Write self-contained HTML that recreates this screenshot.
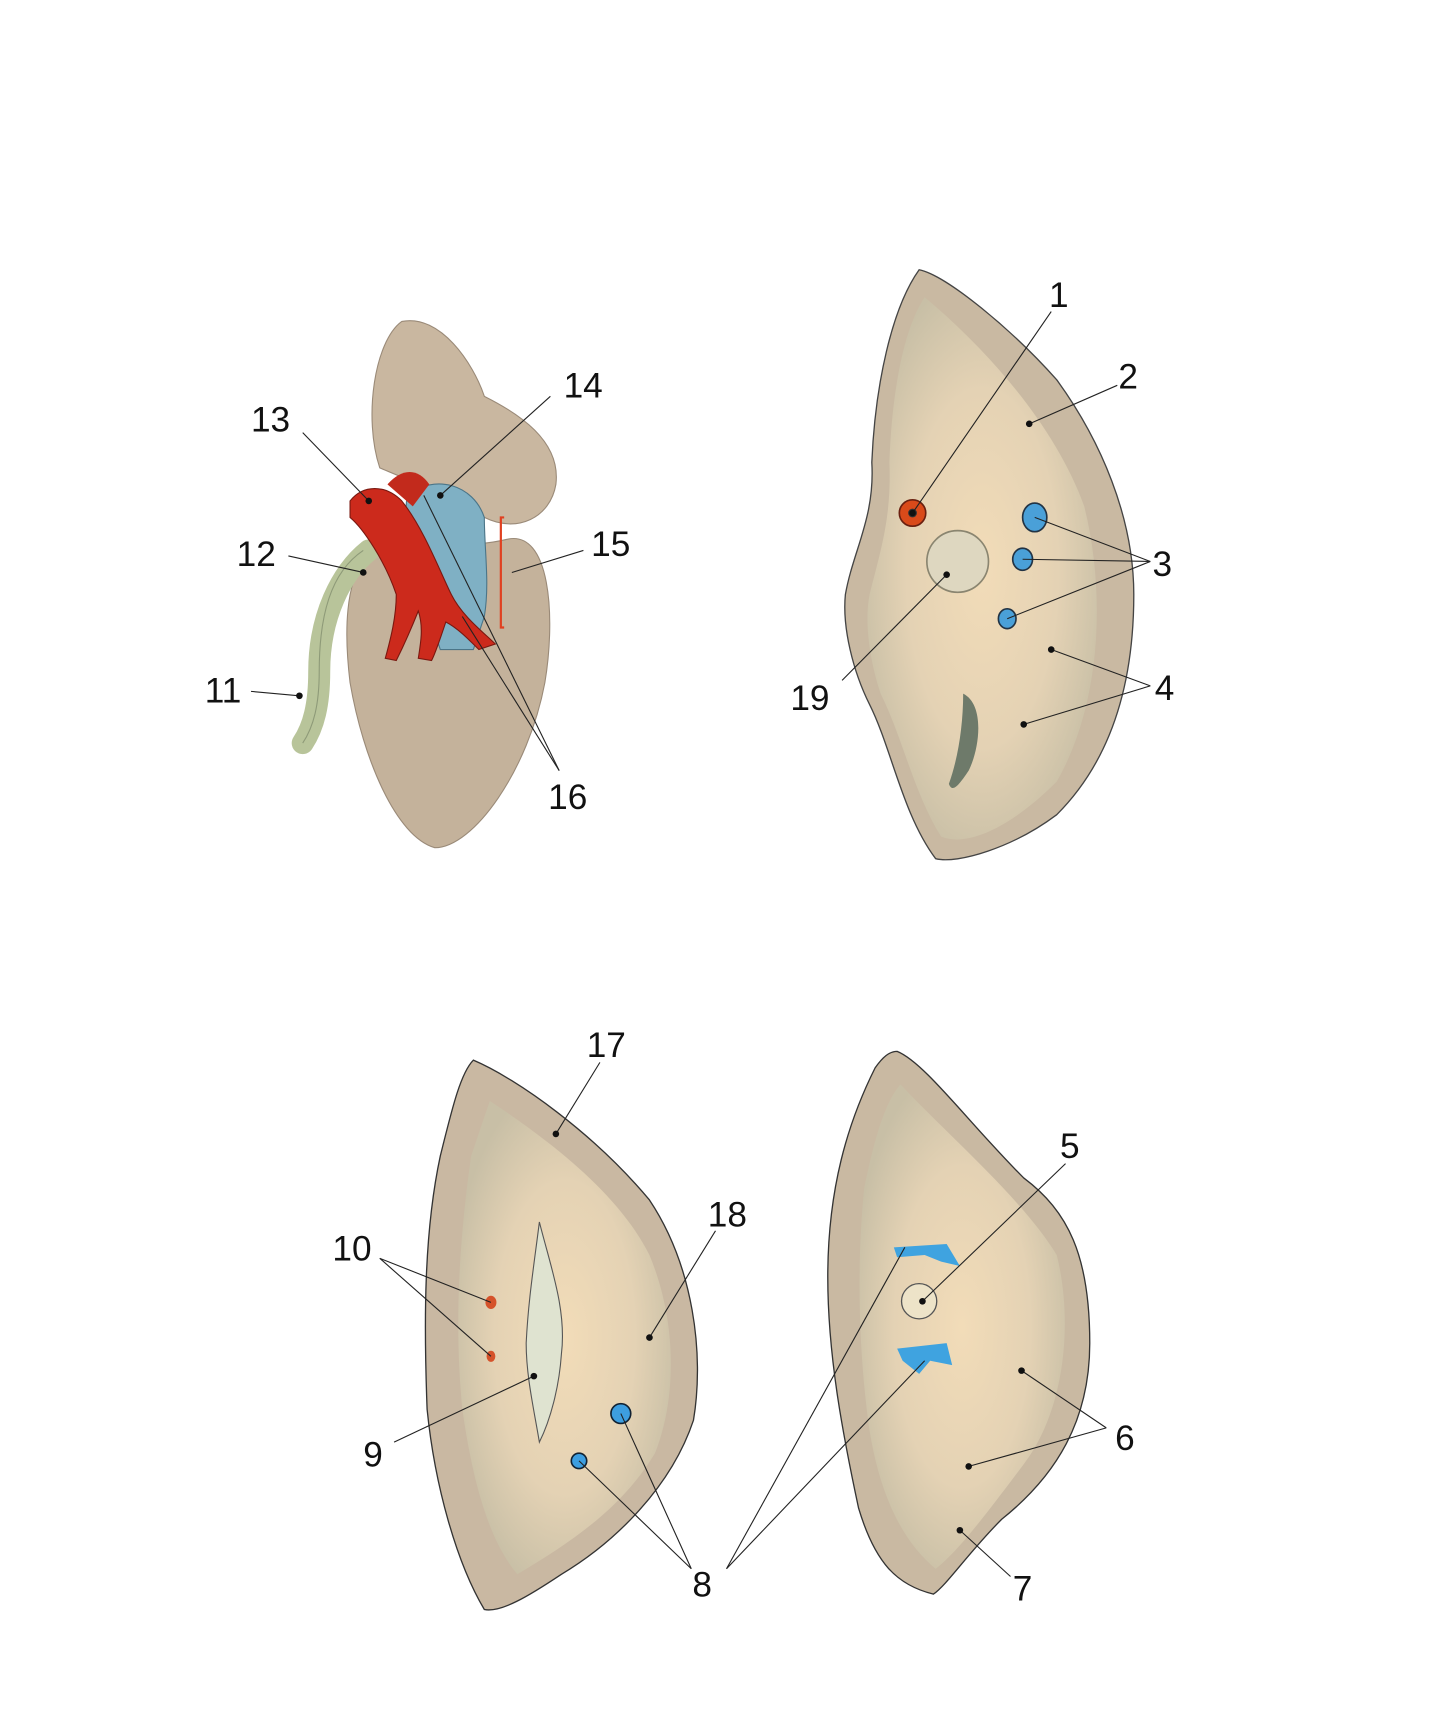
<!DOCTYPE html>
<html><head><meta charset="utf-8"><style>
html,body{margin:0;padding:0;background:#fff;}
svg{display:block;}
text{font-family:"Liberation Sans",sans-serif;font-size:32px;fill:#111;}
</style></head><body>
<svg width="1431" height="1713" viewBox="0 0 1300 1556" preserveAspectRatio="none">
<defs>
<radialGradient id="core" cx="50%" cy="50%" r="55%">
<stop offset="0%" stop-color="#f2dcb8"/><stop offset="60%" stop-color="#e4d2b4"/><stop offset="100%" stop-color="#c8bfa6"/>
</radialGradient>
</defs>
<!-- top-left kidney -->
<path d="M365,292 C400,285 430,330 440,360 C470,375 510,400 505,440 C500,470 470,485 440,470 C420,455 380,440 345,425 C330,380 340,310 365,292Z" fill="#c9b7a0" stroke="#9a8a78" stroke-width="1"/>
<path d="M330,510 C360,490 420,500 460,490 C500,480 505,560 495,620 C480,700 430,770 395,770 C360,760 330,690 318,620 C312,570 315,530 330,510Z" fill="#c4b29b" stroke="#9a8a78" stroke-width="1"/>
<path d="M335,500 C310,520 290,560 290,610 C290,640 285,660 275,675" stroke="#b8c49a" stroke-width="20" fill="none" stroke-linecap="round"/>
<path d="M330,500 C300,520 290,560 290,610 C290,640 285,660 275,675" stroke="#8e9a78" stroke-width="1" fill="none"/>
<path d="M370,450 C395,430 430,440 440,470 C440,500 445,530 440,560 L430,590 L400,590 L390,560 C375,520 365,480 370,450Z" fill="#7fb0c4" stroke="#4b7588" stroke-width="1"/>
<path d="M318,455 C330,440 350,440 365,455 C385,480 400,520 410,540 C420,560 440,575 450,585 L435,590 C425,580 415,570 405,565 C400,580 395,595 392,600 L380,598 C382,585 385,570 380,555 C372,575 365,590 360,600 L350,598 C355,580 360,560 360,540 C350,510 330,480 318,470Z" fill="#cc2a1c" stroke="#7a1810" stroke-width="1"/>
<path d="M352,440 C365,425 380,425 390,440 L375,460Z" fill="#c22a1c"/>
<path d="M458,470 L455,470 L455,570 L458,570" stroke="#e04020" stroke-width="2" fill="none"/>
<!-- top-right section -->
<path d="M835,245 C860,250 920,300 960,345 C1000,400 1030,470 1030,540 C1030,620 1010,690 960,740 C920,770 870,785 850,780 C820,740 810,680 790,640 C775,610 765,570 768,540 C775,500 795,470 792,420 C795,350 810,280 835,245Z" fill="#c9b9a2" stroke="#444" stroke-width="1.2"/>
<path d="M840,270 C900,320 960,390 985,460 C1005,540 1000,640 960,710 C920,750 880,770 855,760 C830,720 820,670 800,630 C790,600 785,565 790,540 C800,500 810,470 808,420 C810,360 820,300 840,270Z" fill="url(#core)"/>
<circle cx="870" cy="510" r="28" fill="#ded7c0" stroke="#8a8570" stroke-width="1.5"/>
<circle cx="829" cy="466" r="12" fill="#d94a1a" stroke="#6a2010" stroke-width="1.5"/><circle cx="829" cy="466" r="4" fill="#333"/>
<ellipse cx="940" cy="470" rx="11" ry="13" fill="#4aa0d8" stroke="#234" stroke-width="1.5"/>
<ellipse cx="929" cy="508" rx="9" ry="10" fill="#4aa0d8" stroke="#234" stroke-width="1.5"/>
<ellipse cx="915" cy="562" rx="8" ry="9" fill="#4aa0d8" stroke="#234" stroke-width="1.5"/>
<path d="M875,630 C895,640 890,680 880,700 C870,715 865,720 862,712 C870,690 875,660 875,630Z" fill="#6e7a6a"/>
<!-- bottom-left section -->
<path d="M430,963 C470,980 540,1030 590,1090 C630,1150 640,1230 630,1290 C610,1350 560,1400 510,1430 C480,1450 455,1465 440,1462 C415,1420 395,1350 388,1280 C385,1200 385,1120 400,1050 C410,1010 418,975 430,963Z" fill="#c9b8a2" stroke="#333" stroke-width="1.2"/>
<path d="M445,1000 C490,1030 560,1080 590,1140 C615,1200 615,1270 595,1320 C565,1370 520,1400 470,1430 C445,1400 430,1350 420,1280 C412,1200 418,1120 428,1050Z" fill="url(#core)"/>
<path d="M490,1110 C500,1150 515,1190 510,1230 C508,1260 500,1290 490,1310 C485,1280 478,1250 478,1220 C480,1180 485,1150 490,1110Z" fill="#dfe3d0" stroke="#555" stroke-width="1"/>
<ellipse cx="446" cy="1183" rx="5" ry="6" fill="#d5522a"/>
<ellipse cx="446" cy="1232" rx="4" ry="5" fill="#d5522a"/>
<circle cx="564" cy="1284" r="9" fill="#3d9ee0" stroke="#123" stroke-width="1.5"/>
<circle cx="526" cy="1327" r="7" fill="#3d9ee0" stroke="#123" stroke-width="1.5"/>
<!-- bottom-right section -->
<path d="M815,955 C840,965 880,1020 930,1070 C970,1100 990,1140 990,1220 C990,1290 960,1340 910,1380 C880,1410 860,1440 848,1448 C815,1440 795,1420 780,1370 C765,1300 752,1230 752,1160 C752,1080 770,1020 795,970 C802,960 808,955 815,955Z" fill="#c9b9a2" stroke="#333" stroke-width="1.2"/>
<path d="M818,985 C860,1030 930,1090 960,1140 C975,1200 968,1280 930,1330 C900,1370 870,1410 850,1425 C820,1400 800,1360 790,1300 C780,1230 778,1150 785,1080 C795,1030 805,1000 818,985Z" fill="url(#core)"/>
<circle cx="835" cy="1182" r="16" fill="#ede3c8" stroke="#555" stroke-width="1.2"/>
<path d="M812,1133 L860,1130 L872,1150 L855,1146 L840,1140 L815,1142Z" fill="#3fa3e0"/>
<path d="M815,1225 L860,1220 L865,1240 L845,1236 L835,1248 L820,1236Z" fill="#3fa3e0"/>
<!-- leader lines -->
<g stroke="#222" stroke-width="1" fill="none">
<line x1="275" y1="393" x2="335" y2="455"/>
<line x1="500" y1="360" x2="400" y2="450"/>
<line x1="262" y1="505" x2="330" y2="520"/>
<line x1="228" y1="628" x2="272" y2="632"/>
<line x1="530" y1="500" x2="465" y2="520"/>
<line x1="508" y1="700" x2="385" y2="450"/>
<line x1="508" y1="700" x2="420" y2="560"/>
<line x1="955" y1="283" x2="829" y2="466"/>
<line x1="1015" y1="350" x2="935" y2="385"/>
<line x1="1045" y1="510" x2="940" y2="470"/>
<line x1="1045" y1="510" x2="929" y2="508"/>
<line x1="1045" y1="510" x2="915" y2="562"/>
<line x1="1045" y1="623" x2="955" y2="590"/>
<line x1="1045" y1="623" x2="930" y2="658"/>
<line x1="765" y1="618" x2="860" y2="522"/>
<line x1="545" y1="965" x2="505" y2="1030"/>
<line x1="650" y1="1118" x2="590" y2="1215"/>
<line x1="345" y1="1143" x2="446" y2="1183"/>
<line x1="345" y1="1143" x2="446" y2="1232"/>
<line x1="358" y1="1310" x2="485" y2="1250"/>
<line x1="628" y1="1425" x2="564" y2="1284"/>
<line x1="628" y1="1425" x2="526" y2="1327"/>
<line x1="660" y1="1425" x2="822" y2="1133"/>
<line x1="660" y1="1425" x2="840" y2="1236"/>
<line x1="968" y1="1057" x2="838" y2="1182"/>
<line x1="1005" y1="1297" x2="928" y2="1245"/>
<line x1="1005" y1="1297" x2="880" y2="1332"/>
<line x1="918" y1="1432" x2="872" y2="1390"/>
</g>
<g fill="#111">
<circle cx="335" cy="455" r="3"/><circle cx="400" cy="450" r="3"/><circle cx="330" cy="520" r="3"/><circle cx="272" cy="632" r="3"/>
<circle cx="829" cy="466" r="3"/><circle cx="935" cy="385" r="3"/><circle cx="955" cy="590" r="3"/><circle cx="930" cy="658" r="3"/><circle cx="860" cy="522" r="3"/>
<circle cx="505" cy="1030" r="3"/><circle cx="590" cy="1215" r="3"/><circle cx="485" cy="1250" r="3"/>
<circle cx="838" cy="1182" r="3"/><circle cx="928" cy="1245" r="3"/><circle cx="880" cy="1332" r="3"/><circle cx="872" cy="1390" r="3"/>
</g>
<text x="228" y="392">13</text><text x="512" y="361">14</text><text x="215" y="514">12</text><text x="537" y="505">15</text>
<text x="186" y="638">11</text><text x="498" y="735">16</text>
<text x="953" y="279">1</text><text x="1016" y="353">2</text><text x="1047" y="523">3</text><text x="1049" y="636">4</text><text x="718" y="645">19</text>
<text x="533" y="960">17</text><text x="643" y="1114">18</text><text x="302" y="1145">10</text><text x="330" y="1332">9</text>
<text x="629" y="1450">8</text><text x="963" y="1052">5</text><text x="1013" y="1317">6</text><text x="920" y="1454">7</text>
</svg>
</body></html>
